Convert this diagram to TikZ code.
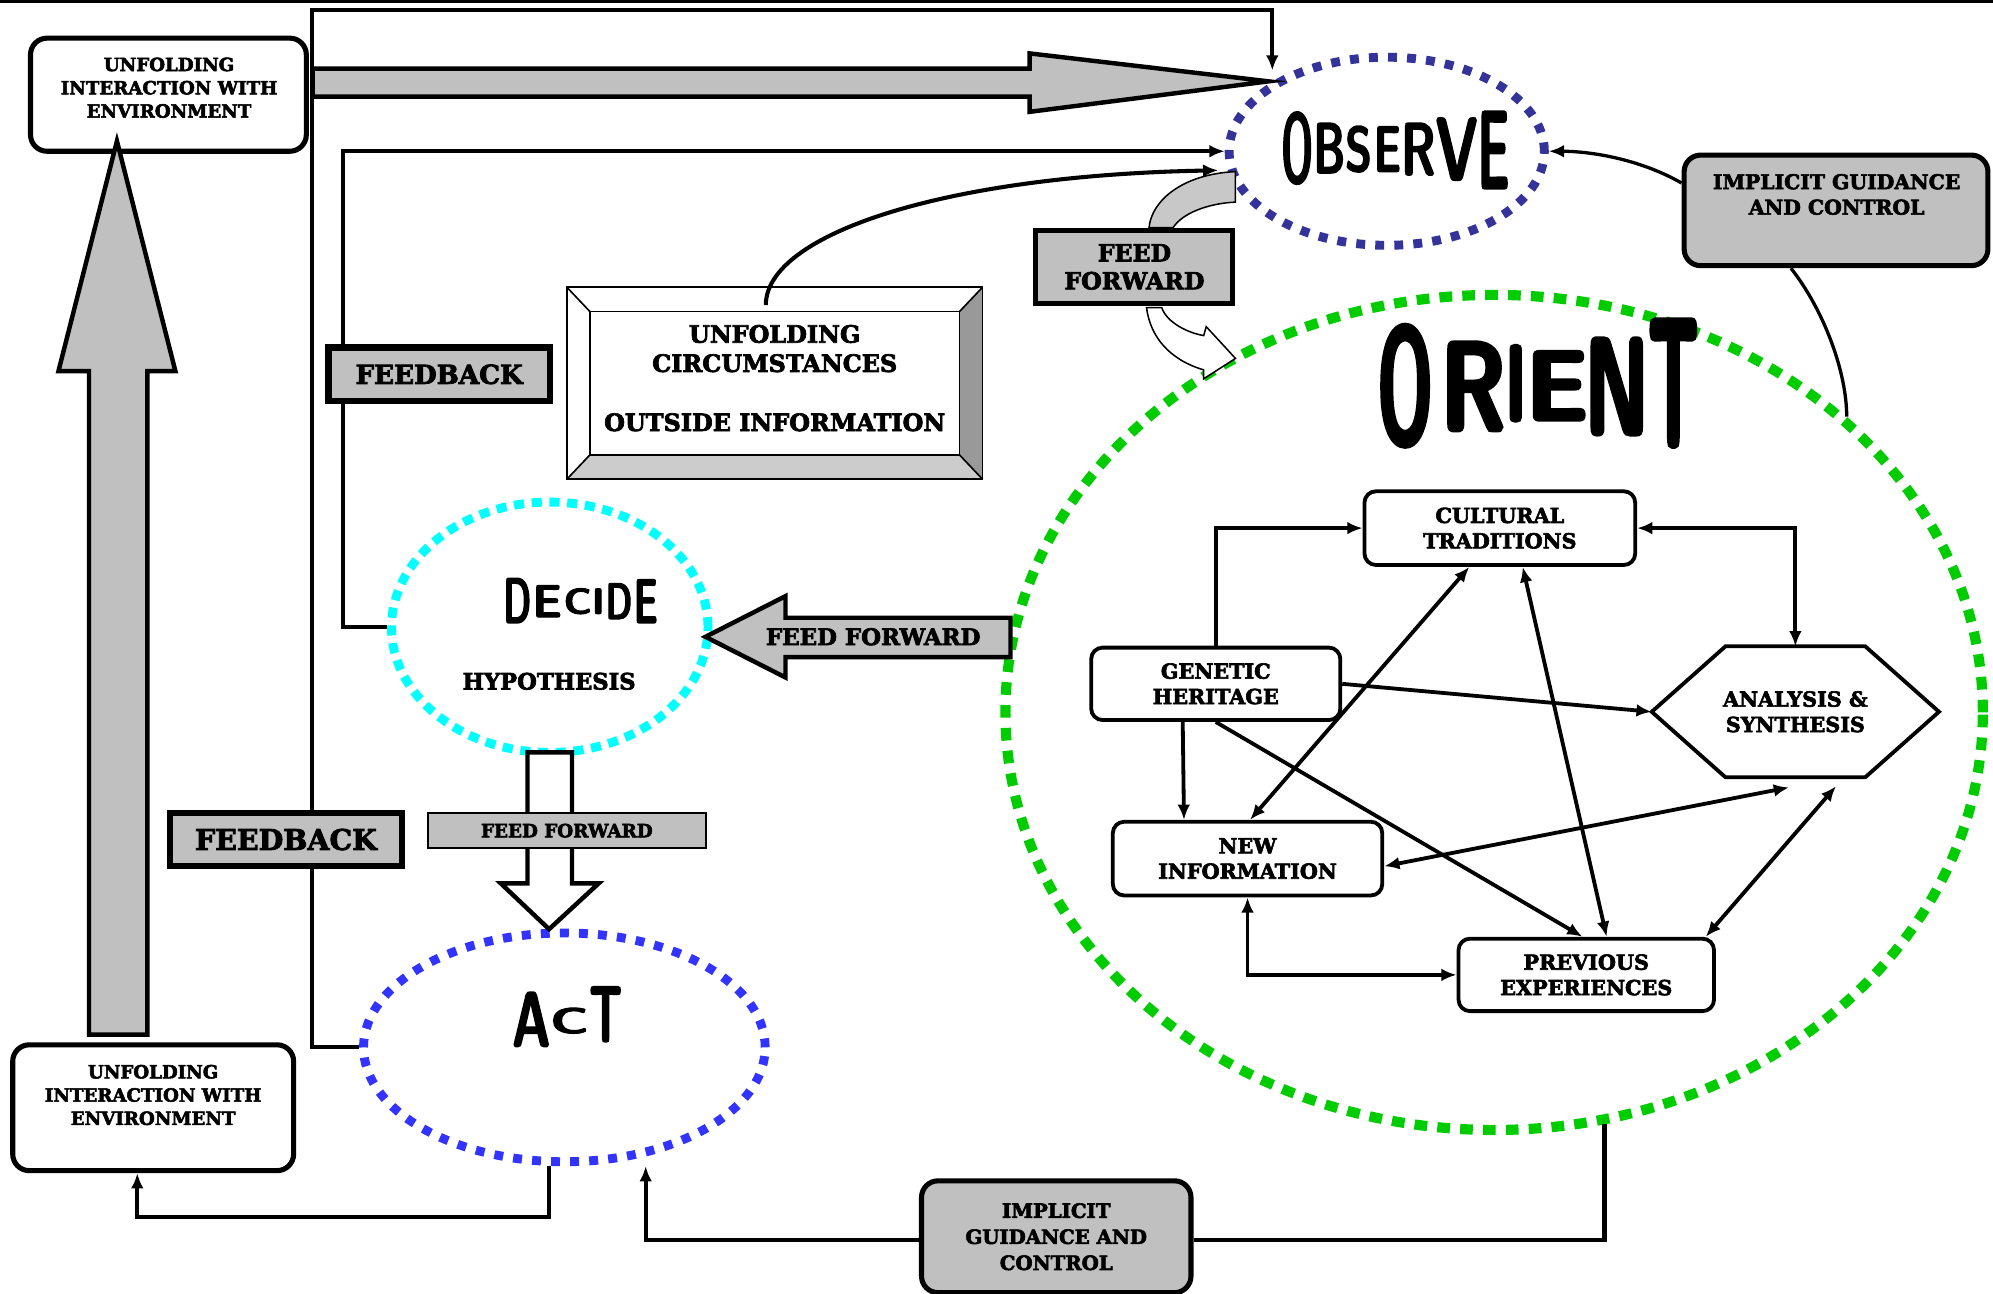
\documentclass[tikz,border=0pt]{standalone}
\usepackage{fontspec}
\setmainfont{DejaVu Serif}[BoldFeatures={FakeBold=3}]
\newfontfamily\handfont{lmsansdemicond10-regular.otf}[FakeBold=2.5]
\newfontfamily\handfontheavy{lmsansdemicond10-regular.otf}[FakeBold=4.5]
\usetikzlibrary{shapes.geometric,arrows.meta,calc}

\definecolor{obsblue}{HTML}{333399}
\definecolor{orgreen}{HTML}{00CC00}
\definecolor{deccyan}{HTML}{00FFFF}
\definecolor{actblue}{HTML}{3333FF}
\definecolor{boxgray}{HTML}{C0C0C0}
\definecolor{bandgray}{HTML}{C8C8C8}
\definecolor{bevdark}{HTML}{999999}
\definecolor{bevlight}{HTML}{CCCCCC}

\newcommand\bsz[2]{\bfseries\fontsize{#1}{#2}\selectfont}
% one hand-lettered glyph, squeezed into a given box
\newcommand\hand[6]{\node[inner sep=0pt,outer sep=0pt] (#1) at (#2,#3) {\resizebox{#4pt}{#5pt}{\handfont #6}};}
\newcommand\handH[6]{\node[inner sep=0pt,outer sep=0pt] (#1) at (#2,#3) {\resizebox{#4pt}{#5pt}{\handfontheavy #6}};}

\tikzset{
  phase/.style={ellipse, inner sep=0pt, line width=7pt, dash pattern=on 7pt off 8pt},
  wbox/.style={draw, line width=4pt, rounded corners=13pt, fill=white, inner sep=0pt},
  gbox/.style={draw, line width=4pt, rounded corners=13pt, fill=boxgray, inner sep=0pt, align=center},
  ibox/.style={draw, line width=3pt, rounded corners=9pt, fill=white, inner sep=0pt, align=center, font=\bsz{16.3}{20}},
  fbox/.style={draw, line width=5pt, fill=boxgray, inner sep=0pt, align=center},
  txt/.style={inner sep=0pt, align=center},
  line/.style={line width=3.2pt},
  thinline/.style={line width=2.6pt},
  iline/.style={line width=3pt},
  blk/.style={line width=3.5pt, line join=miter},
}

\begin{document}
\begin{tikzpicture}[x=1pt,y=-1pt,>={Latex[length=12pt,width=10pt]}]
\useasboundingbox (0,0) rectangle (1568,1018);
\fill (0,0) rectangle (1568,2.5);

% ---------- the four phases ----------
\node[phase, draw=obsblue, minimum width=248pt, minimum height=148pt] (obs) at (1091,119) {};
\node[phase, draw=orgreen, line width=8pt, dash pattern=on 10pt off 8pt,
      minimum width=769pt, minimum height=657pt] (ori) at (1175.5,560.5) {};
\node[phase, draw=deccyan, dash pattern=on 8pt off 6pt,
      minimum width=249pt, minimum height=197pt] (dec) at (432.5,493.5) {};
\node[phase, draw=actblue, minimum width=316pt, minimum height=180pt] (act) at (444,824) {};

% phase titles
\hand{ob1}{1020.5}{116.5}{25}{55}{O}
\hand{ob2}{1045.8}{116.5}{25}{39}{B}
\hand{ob3}{1068.8}{117.3}{21}{35.3}{S}
\hand{ob4}{1091.5}{117.3}{21.4}{35.3}{E}
\hand{ob5}{1115.8}{117.3}{27}{40.7}{R}
\hand{ob6}{1146}{117.3}{33}{48.6}{V}
\hand{ob7}{1175}{118}{25}{60.3}{E}

\handH{or1}{1105.5}{303.5}{43}{91}{O}
\handH{or2}{1159}{304}{50.4}{68}{R}
\handH{or3}{1192.5}{301.5}{16.5}{58}{I}
\handH{or4}{1225}{303.5}{48}{53}{E}
\handH{or5}{1272}{304}{50}{74}{N}
\handH{or6}{1316.5}{301.5}{39}{97}{T}

\hand{de1}{407}{472.5}{22}{35}{D}
\hand{de2}{430.5}{473}{23}{25}{E}
\hand{de3}{454.5}{473}{22}{20}{C}
\hand{de4}{470.7}{473}{10}{20}{I}
\hand{de5}{487}{473}{21}{28}{D}
\hand{de6}{508}{473}{19}{34}{E}

\hand{ac1}{418}{802}{30}{42.5}{A}
\hand{ac2}{448}{803}{30}{20}{C}
\hand{ac3}{476.5}{798}{25.8}{43}{T}

\node[txt, font=\bsz{17.8}{20}] (hyp) at (432,536) {HYPOTHESIS};

% ---------- environment boxes ----------
\node[wbox, minimum width=217pt, minimum height=89pt] (tl) at (132.5,74.5) {};
\node[txt, font=\bsz{14.3}{18.3}] (tlt) at (133,69) {UNFOLDING\\INTERACTION WITH\\ENVIRONMENT};
\node[wbox, minimum width=221pt, minimum height=99pt] (bl) at (120.5,871.5) {};
\node[txt, font=\bsz{14.3}{18.3}] (blt) at (120.5,861.5) {UNFOLDING\\INTERACTION WITH\\ENVIRONMENT};

% ---------- implicit guidance and control ----------
\node[gbox, minimum width=239pt, minimum height=87pt] (ig1) at (1444.5,165.5) {};
\node[txt, font=\bsz{16}{20}] (ig1t) at (1445,153) {IMPLICIT GUIDANCE\\AND CONTROL};
\node[gbox, minimum width=212pt, minimum height=88pt, font=\bsz{15.5}{20.5}] (ig2) at (831,973) {IMPLICIT\\GUIDANCE AND\\CONTROL};

% ---------- unfolding circumstances (bevelled frame) ----------
\node[inner sep=0pt, outer sep=0pt, minimum width=327pt, minimum height=151pt] (ucb) at (609.5,301.5) {};
\coordinate (iNW) at ([shift={(18pt,-19pt)}]ucb.north west);
\coordinate (iNE) at ([shift={(-18pt,-19pt)}]ucb.north east);
\coordinate (iSE) at ([shift={(-18pt,19pt)}]ucb.south east);
\coordinate (iSW) at ([shift={(18pt,19pt)}]ucb.south west);
\fill[white] (ucb.north west) rectangle (ucb.south east);
\fill[bevdark] (ucb.north east) -- (ucb.south east) -- (iSE) -- (iNE) -- cycle;
\fill[bevlight] (ucb.south west) -- (ucb.south east) -- (iSE) -- (iSW) -- cycle;
\draw[line width=1.3pt] (ucb.north west) rectangle (ucb.south east);
\draw[line width=1.3pt] (iNW) rectangle (iSE);
\draw[line width=1.3pt] (ucb.north west) -- (iNW) (ucb.north east) -- (iNE)
      (ucb.south east) -- (iSE) (ucb.south west) -- (iSW);
\node[txt, font=\bsz{18.8}{23}] (ucbt) at (609.5,297.5) {UNFOLDING\\CIRCUMSTANCES\\[23.5pt]OUTSIDE INFORMATION};

% ---------- orient internals ----------
\node[ibox, minimum width=213pt, minimum height=58pt] (ct) at (1180,415.5) {CULTURAL\\TRADITIONS};
\node[ibox, minimum width=196pt, minimum height=57pt] (gh) at (956.5,538) {GENETIC\\HERITAGE};
\node[ibox, minimum width=212pt, minimum height=58pt] (ni) at (981.5,675.5) {NEW\\INFORMATION};
\node[ibox, minimum width=201pt, minimum height=57pt] (pe) at (1248,767) {PREVIOUS\\EXPERIENCES};
\node[inner sep=0pt, outer sep=0pt, minimum width=226pt, minimum height=103pt, align=center,
      font=\bsz{16.3}{20}] (as) at (1412.5,560) {ANALYSIS \&\\SYNTHESIS};
\draw[line width=3pt] (as.west) -- ([xshift=58pt]as.north west) -- ([xshift=-58pt]as.north east)
      -- (as.east) -- ([xshift=-58pt]as.south east) -- ([xshift=58pt]as.south west) -- cycle;

\draw[iline, ->] (gh.north) |- (ct.west);
\draw[iline, <->] (ct.east) -| (as.north);
\draw[iline, ->] (gh.east) -- (as.west);
\draw[iline, ->] ([xshift=-26pt]gh.south) -- ([xshift=-50pt]ni.north);
\draw[iline, <->] ([xshift=2pt]ni.north) -- ([xshift=-24pt]ct.south);
\draw[iline, <->] ([xshift=18pt]ct.south) -- ([xshift=16pt]pe.north);
\draw[iline, ->] (gh.south) -- ([xshift=-3pt]pe.north);
\draw[iline, <->] ([yshift=-6pt]ni.east) -- ([shift={(-5pt,-8pt)}]as.south);
\draw[iline, <->] ([xshift=-8pt]pe.north east) -- ([shift={(32pt,-7pt)}]as.south);
\draw[iline, <->] (ni.south) |- (pe.west);

% ---------- loops between the phases ----------
\coordinate (topY) at (0,8);
\coordinate (obsTop) at ($(obs.north)+(-90,14)$);
\draw[line, ->] (act.west) -- ++(-37,0) |- (obsTop |- topY) -- (obsTop);
\draw[line, ->] (dec.west) -- ++(-35,0) |- (obs.west);
\draw[line, ->] ([shift={(-7pt,-14pt)}]ucb.north) .. controls +(0,-55) and +(-218,4) .. ([shift={(-5pt,-15pt)}]obs.west);
\draw[thinline, ->] ([yshift=21.5pt]ig1.west) .. controls +(-35,-20) and +(30,0) .. (obs.east);
\draw[thinline] ([xshift=-35.5pt]ig1.south) .. controls +(26,33) and +(0,-35) .. (ori.40);
\draw[line, ->] ([xshift=-12pt]act.south) -- ++(0,40) -| ([xshift=-12.5pt]bl.south);
\draw[line, ->] ([yshift=-2.5pt]ig2.west) -| ([xshift=64pt]act.south);
\draw[line] ([yshift=-2.5pt]ig2.east) -| (ori.-75);

% ---------- block arrows ----------
\draw[blk, fill=boxgray] (246,54) -- (810,54) -- (810,42) -- (998,64) -- (810,88) -- (810,76) -- (246,76) -- cycle;
\draw[blk, fill=boxgray] (70,814) -- (70,292) -- (46,292) -- (92,111) -- (138,292) -- (116,292) -- (116,814) -- cycle;
\draw[blk, fill=boxgray] (795,486) -- (618,486) -- (618,469) -- (555,501) -- (618,533) -- (618,517) -- (795,517) -- cycle;
\node[txt, font=\bsz{18}{20}] (fft) at (687,501) {FEED FORWARD};
\draw[blk, fill=white] (415,592) -- (415,695) -- (394,695) -- (432,731) -- (471,695) -- (450,695) -- (450,592) -- cycle;

% feed-forward from observe to orient
\draw[line width=1.2pt, fill=bandgray] (904,179) .. controls (906,158) and (930,137) .. (972,135)
      -- (972,159) .. controls (950,160) and (930,168) .. (923,179) -- cycle;
\draw[line width=1.2pt, fill=white, line join=miter] (902,242) .. controls (905,265) and (920,283) .. (947,291)
      -- (947,298) -- (972,282) -- (949,257) -- (947,264) .. controls (935,262) and (918,254) .. (914,242) -- cycle;
\node[fbox, line width=4pt, minimum width=155pt, minimum height=58pt, font=\bsz{18.6}{22}] (ff1) at (892.5,210) {FEED\\FORWARD};

% ---------- labels on the loops ----------
\node[fbox, minimum width=174pt, minimum height=42pt, font=\bsz{20.6}{22}] (fb1) at (345.5,294.5) {FEEDBACK};
\node[fbox, minimum width=183pt, minimum height=42pt, font=\bsz{22.4}{24}] (fb2) at (225,660.5) {FEEDBACK};
\node[fbox, line width=1.5pt, minimum width=218.5pt, minimum height=27.5pt, font=\bsz{14.4}{16}] (ff3) at (446,653.5) {FEED FORWARD};
\end{tikzpicture}
\end{document}
